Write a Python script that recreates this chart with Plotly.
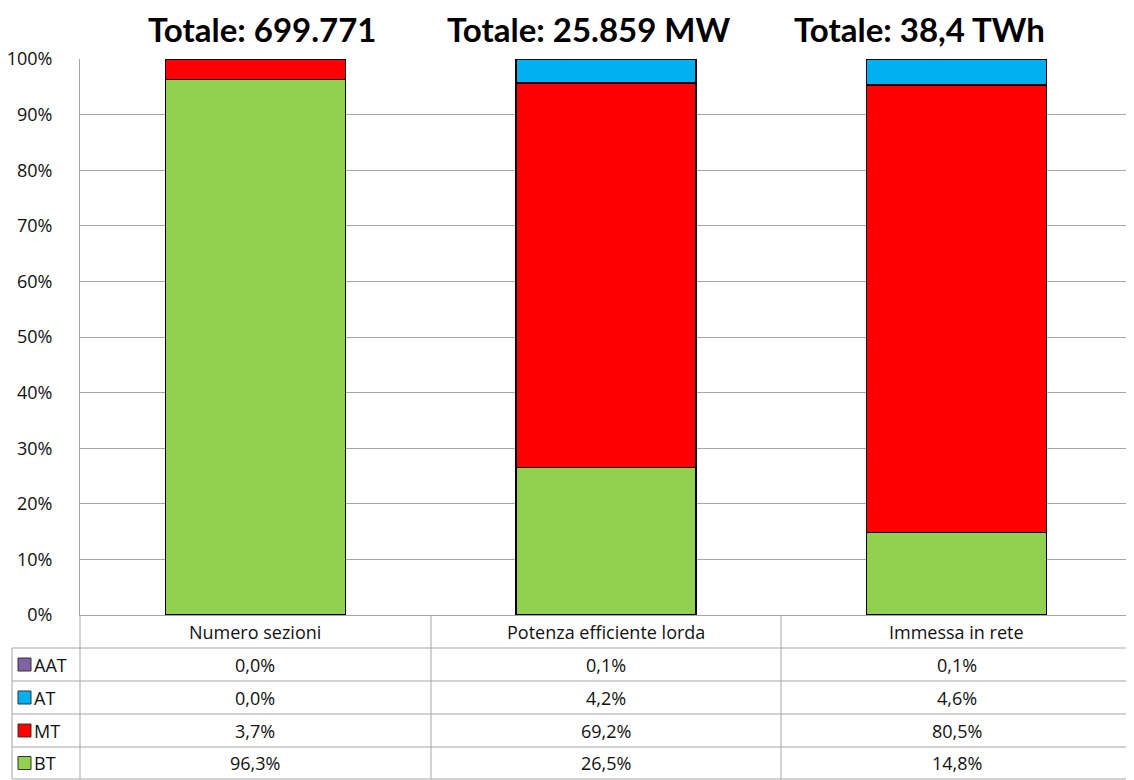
import plotly.graph_objects as go

categories = ["Numero sezioni", "Potenza efficiente lorda", "Immessa in rete"]
series_names = ["BT", "MT", "AT", "AAT"]
bt = [96.3, 26.5, 14.8]
mt = [3.7, 69.2, 80.5]
at = [0.0, 4.2, 4.6]
aat = [0.0, 0.1, 0.1]
totals = ["Totale: 699.771", "Totale: 25.859 MW", "Totale: 38,4 TWh"]
colors = {"BT": "#92D050", "MT": "#FF0000", "AT": "#00B0F0", "AAT": "#8064A2"}
values = {"BT": bt, "MT": mt, "AT": at, "AAT": aat}

# page has an 8px body margin, so the figure is shifted by 8px
OFF = 8
W, H = 1134 - OFF, 780 - OFF
L, R, T, B = 80 - OFF, 2, 59 - OFF, 780 - 615
PW = W - L - R
PH = H - T - B
GRID = "#A6A6A6"
FONT = "Open Sans, Liberation Sans, Arial"
TFONT = "Lato, Liberation Sans, Arial"
TXT = "#111"


def px(x):
    return (x - 80) / PW


def py(y):
    return (615 - y) / PH


fig = go.Figure()
for s in series_names:
    fig.add_trace(go.Bar(
        x=categories, y=values[s], name=s,
        marker=dict(color=colors[s], line=dict(color="black", width=1.3)),
        showlegend=False,
    ))

shapes = []
annotations = []

# table grid
row_lines = [615, 648, 681, 714, 747, 779]
col_lines = [80, 431, 781, 1132]
for yl in row_lines[1:]:
    shapes.append(dict(type="line", xref="paper", yref="paper",
                       x0=px(12), x1=px(1132), y0=py(yl), y1=py(yl),
                       line=dict(color=GRID, width=1)))
for xl in col_lines:
    shapes.append(dict(type="line", xref="paper", yref="paper",
                       x0=px(xl), x1=px(xl), y0=py(615), y1=py(779),
                       line=dict(color=GRID, width=1)))
shapes.append(dict(type="line", xref="paper", yref="paper",
                   x0=px(12), x1=px(12), y0=py(648), y1=py(779),
                   line=dict(color=GRID, width=1)))

# header
for c in categories:
    annotations.append(dict(x=c, xref="x", y=py(631.5), yref="paper",
                            text=c, showarrow=False,
                            xanchor="center", yanchor="middle",
                            font=dict(size=18, color=TXT, family=FONT)))

row_order = ["AAT", "AT", "MT", "BT"]
for r, s in enumerate(row_order):
    yc = (row_lines[r + 1] + row_lines[r + 2]) / 2
    shapes.append(dict(type="rect", xref="paper", yref="paper",
                       x0=px(18), x1=px(31), y0=py(yc + 6.5), y1=py(yc - 6.5),
                       fillcolor=colors[s], line=dict(color="#333", width=1)))
    annotations.append(dict(x=px(32), xref="paper", y=py(yc), yref="paper",
                            text=s, showarrow=False,
                            xanchor="left", yanchor="middle",
                            font=dict(size=18, color=TXT, family=FONT)))
    for c, v in zip(categories, values[s]):
        annotations.append(dict(x=c, xref="x", y=py(yc), yref="paper",
                                text=f"{v:.1f}".replace(".", ",") + "%",
                                showarrow=False,
                                xanchor="center", yanchor="middle",
                                font=dict(size=18, color=TXT, family=FONT)))

# titles
title_x = [262, 589, 919]
for t, xc in zip(totals, title_x):
    annotations.append(dict(x=px(xc), xref="paper", y=py(29), yref="paper",
                            text=f"<b>{t}</b>", showarrow=False,
                            xanchor="center", yanchor="middle",
                            font=dict(size=33, color="black", family=TFONT)))

fig.update_layout(
    barmode="stack",
    bargap=0.487,
    width=W, height=H,
    margin=dict(l=L, r=R, t=T, b=B, pad=0, autoexpand=False),
    plot_bgcolor="white", paper_bgcolor="white",
    shapes=shapes, annotations=annotations,
    font=dict(family=FONT, color="black"),
)
fig.update_yaxes(range=[0, 100], dtick=10, ticksuffix="%",
                 showgrid=True, gridcolor=GRID, gridwidth=1,
                 showline=True, linecolor=GRID, zeroline=False,
                 ticks="", ticklabelstandoff=23, automargin=False,
                 tickfont=dict(size=18, color=TXT, family=FONT))
fig.update_xaxes(showticklabels=False, showline=True, linecolor=GRID,
                 ticks="", showgrid=False, automargin=False)

fig.write_html("out.html")
